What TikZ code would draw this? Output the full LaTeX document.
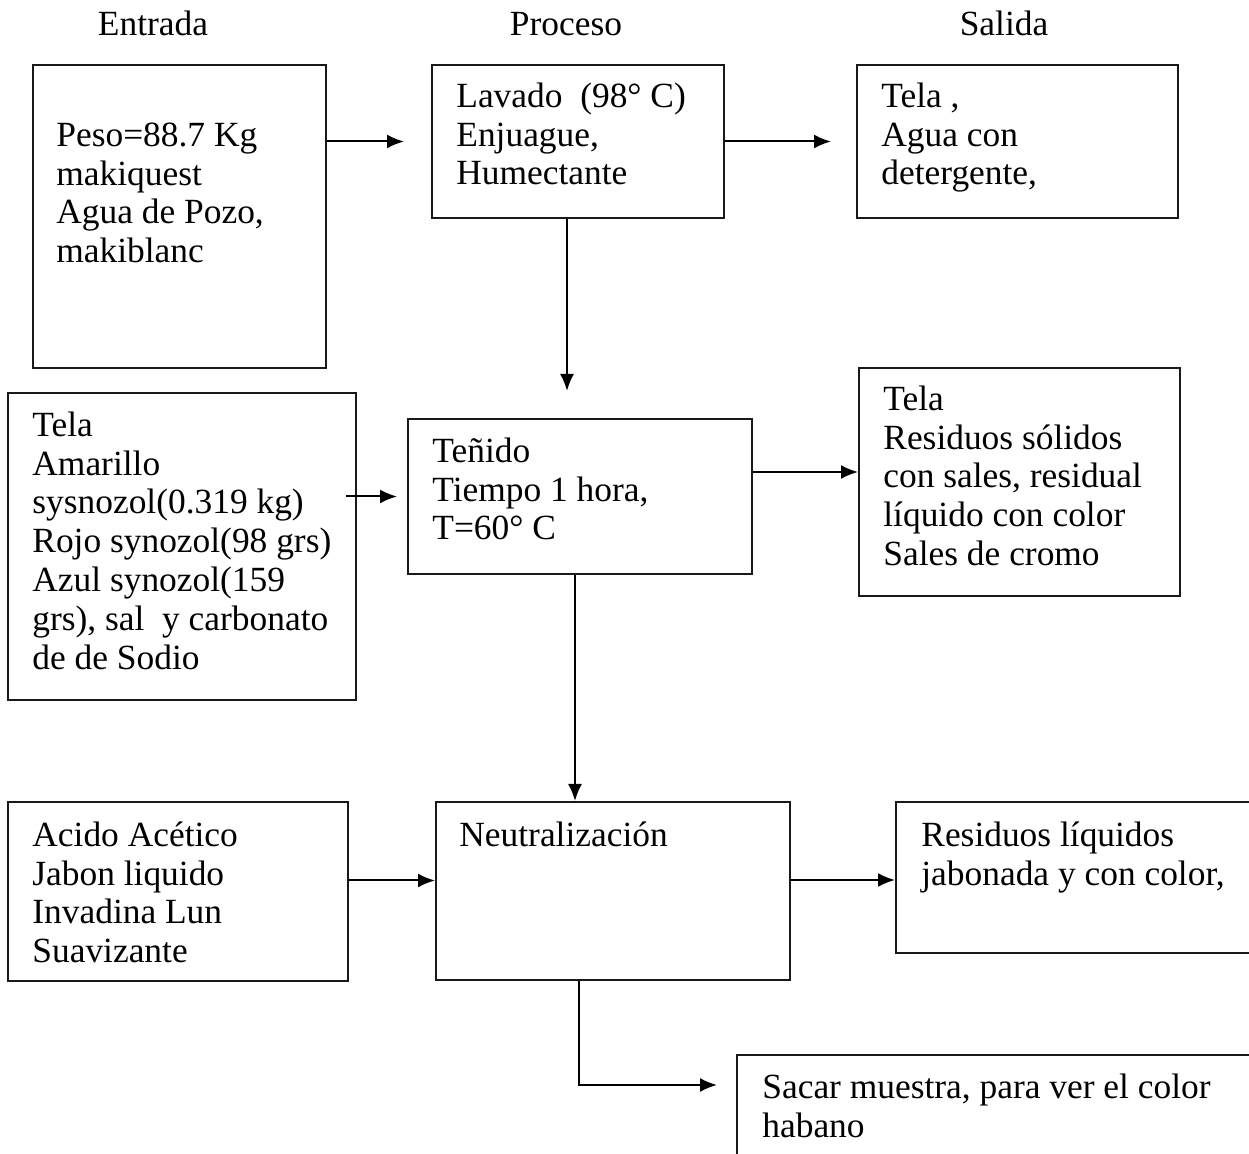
\documentclass[tikz,border=0pt]{standalone}
\usepackage{fontspec}
\setmainfont{Liberation Serif}
\usetikzlibrary{fit,arrows.meta}
\begin{document}
\begin{tikzpicture}[x=0.5pt,y=-0.5pt,
  box/.style={draw=black!90, line width=1pt, inner sep=0pt},
  txt/.style={anchor=north west, inner sep=0pt, align=left, font=\fontsize{17.7}{19.4}\selectfont},
  hdr/.style={anchor=base, inner sep=0pt, font=\fontsize{17.7}{19.4}\selectfont},
  arr/.style={line width=1pt, -{Latex[length=8.5pt,width=7pt]}}]
\useasboundingbox (0,0) rectangle (1249,1154);
% headers
\node[hdr] (h1) at (153,36) {Entrada};
\node[hdr] (h2) at (566,36) {Proceso};
\node[hdr] (h3) at (1004,36) {Salida};
% boxes
\node[box, fit={(33,65) (326,368)}] (A) {};
\node[box, fit={(432,65) (724,218)}] (B) {};
\node[box, fit={(857,65) (1178,218)}] (C) {};
\node[box, fit={(8,393) (356,700)}] (D) {};
\node[box, fit={(408,419) (752,574)}] (E) {};
\node[box, fit={(859,368) (1180,596)}] (F) {};
\node[box, fit={(8,802) (348,981)}] (G) {};
\node[box, fit={(436,802) (790,980)}] (H) {};
\node[box, fit={(896,802) (1262,953)}] (I) {};
\node[box, fit={(737,1055) (1262,1175)}] (J) {};
% texts
\node[txt] (tA) at (56,118.8) {\strut Peso=88.7 Kg\\makiquest\\Agua de Pozo,\\makiblanc};
\node[txt] (tB) at (456,79.8) {\strut Lavado~ (98° C)\\Enjuague,\\Humectante};
\node[txt] (tC) at (881,79.8) {\strut Tela ,\\Agua con\\detergente,};
\node[txt] (tD) at (32,408.8) {\strut Tela\\Amarillo\\sysnozol(0.319 kg)\\Rojo synozol(98 grs)\\Azul synozol(159\\grs), sal~ y carbonato\\de de Sodio};
\node[txt] (tE) at (432,434.8) {\strut Teñido\\Tiempo 1 hora,\\T=60° C};
\node[txt] (tF) at (883,382.8) {\strut Tela\\Residuos sólidos\\con sales, residual\\líquido con color\\Sales de cromo};
\node[txt] (tG) at (32,818.8) {\strut Acido Acético\\Jabon liquido\\Invadina Lun\\Suavizante};
\node[txt] (tH) at (459,818.8) {\strut Neutralización};
\node[txt] (tI) at (921,818.8) {\strut Residuos líquidos\\jabonada y con color,};
\node[txt] (tJ) at (762,1070.8) {\strut Sacar muestra, para ver el color\\habano};
% connectors
\draw[arr, shorten >=13.5pt] (A.east |- B.west) -- (B.west);
\draw[arr, shorten >=12.5pt] (B.east) -- (B.east -| C.west);
\draw[arr, shorten >=13.5pt] ([xshift=-5.5pt]B.south) -- ([xshift=-5.5pt]B.south |- E.north);
\draw[arr, shorten <=-5.5pt, shorten >=5pt] (D.east |- E.west) -- (E.west);
\draw[arr] ([yshift=12.25pt]E.east) -- ([yshift=12.25pt]E.east -| F.west);
\draw[arr] ([xshift=-2.5pt]E.south) -- ([xshift=-2.5pt]E.south |- H.north);
\draw[arr] ([yshift=5.5pt]G.east) -- ([yshift=5.5pt]G.east -| H.west);
\draw[arr] ([yshift=5.5pt]H.east) -- ([yshift=5.5pt]H.east -| I.west);
\draw[arr, shorten >=9.5pt] ([xshift=-17pt]H.south) |- ([yshift=15pt]J.west);
\end{tikzpicture}
\end{document}
